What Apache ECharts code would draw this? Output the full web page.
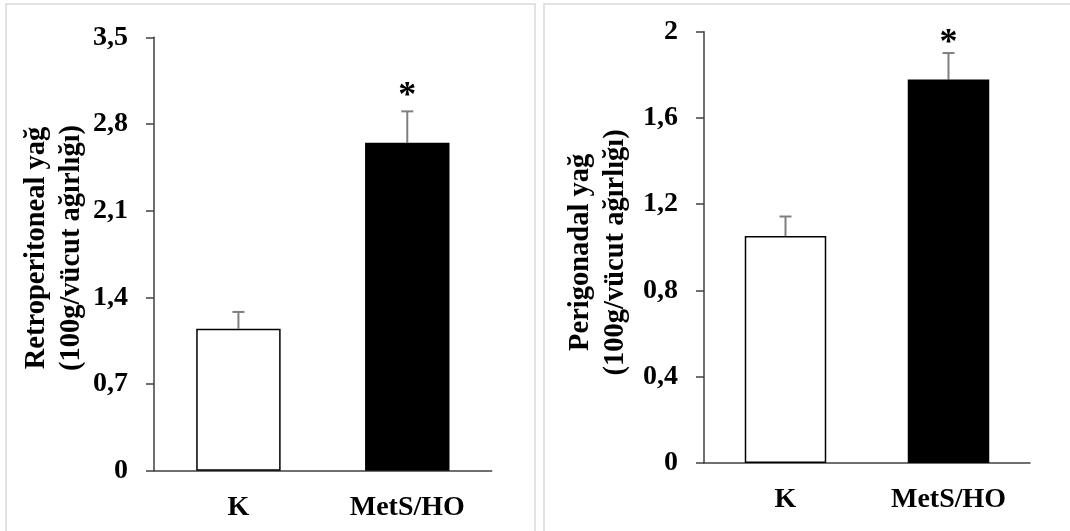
<!DOCTYPE html>
<html>
<head>
<meta charset="utf-8">
<script src="https://cdn.jsdelivr.net/npm/echarts@6/dist/echarts.min.js"></script>
<style>
  html, body { margin: 0; padding: 0; background: #fff; }
  #chart { width: 1070px; height: 531px; }
</style>
</head>
<body>
<div id="chart"></div>
<script>
// ---- data ----
const categories = ['K', 'MetS/HO'];

const retroMeans = [1.147, 2.649];
const retroErrors = [0.135, 0.253];
const retroStarPos = [null, 3.07];
const retroTicks = ['0', '0,7', '1,4', '2,1', '2,8', '3,5'];
const retroName = 'Retroperitoneal yağ\n(100g/vücut ağırlığı)';

const periMeans = [1.053, 1.778];
const periErrors = [0.09, 0.123];
const periStarPos = [null, 1.973];
const periTicks = ['0', '0,4', '0,8', '1,2', '1,6', '2'];
const periName = 'Perigonadal yağ\n(100g/vücut ağırlığı)';

// ---- styling ----
const FONT = '"Liberation Serif", "Times New Roman", serif';
const AXIS_COLOR = '#404040';
const ERR_COLOR = '#7f7f7f';
const FS = 28;
const STAR_FS = 36;

function tickFormatter(ticks, interval) {
  return function (v) {
    const i = Math.round(v / interval);
    return ticks[i] !== undefined ? ticks[i] : '';
  };
}

function makeYAxis(gridIndex, max, interval, ticks, name, nameGap, namePad) {
  return {
    type: 'value', gridIndex: gridIndex, min: 0, max: max, interval: interval,
    name: name, nameLocation: 'middle', nameRotate: 90, nameGap: nameGap,
    nameTextStyle: { fontFamily: FONT, fontWeight: 'bold', fontSize: 28.5, color: '#000', lineHeight: 35, align: 'center', padding: namePad },
    axisLine: { show: true, lineStyle: { color: AXIS_COLOR, width: 1.5 } },
    axisTick: { show: true, inside: false, length: 8, lineStyle: { color: AXIS_COLOR, width: 1.5 } },
    axisLabel: { margin: 26, fontFamily: FONT, fontWeight: 'bold', fontSize: FS, color: '#000', formatter: tickFormatter(ticks, interval) },
    splitLine: { show: false }
  };
}

function makeXAxis(gridIndex) {
  return {
    type: 'category', gridIndex: gridIndex, data: categories,
    axisLine: { show: true, onZero: false, lineStyle: { color: AXIS_COLOR, width: 1.5 } },
    axisTick: { show: false },
    axisLabel: { margin: 23, fontFamily: FONT, fontWeight: 'bold', fontSize: FS, color: '#000' }
  };
}

function makeBars(idx, means) {
  return {
    type: 'bar', xAxisIndex: idx, yAxisIndex: idx, barWidth: '50%',
    data: means.map(function (v, i) {
      return {
        value: v,
        itemStyle: i === 0
          ? { color: '#ffffff', borderColor: '#000000', borderWidth: 1.5 }
          : { color: '#000000', borderColor: '#000000', borderWidth: 0 }
      };
    }),
    silent: true, z: 2
  };
}

function makeErr(idx, means, errors) {
  return {
    type: 'custom', xAxisIndex: idx, yAxisIndex: idx, silent: true, z: 1,
    data: means.map(function (m, i) { return [i, m, m + errors[i]]; }),
    renderItem: function (params, api) {
      const base = api.coord([api.value(0), api.value(1)]);
      const top = api.coord([api.value(0), api.value(2)]);
      const hw = 6;
      return {
        type: 'group',
        children: [
          { type: 'line', shape: { x1: base[0], y1: base[1], x2: top[0], y2: top[1] }, style: { stroke: ERR_COLOR, lineWidth: 2 } },
          { type: 'line', shape: { x1: top[0] - hw, y1: top[1], x2: top[0] + hw, y2: top[1] }, style: { stroke: ERR_COLOR, lineWidth: 2 } }
        ]
      };
    }
  };
}

function makeStar(idx, pos) {
  return {
    type: 'custom', xAxisIndex: idx, yAxisIndex: idx, silent: true, z: 3,
    data: pos.map(function (p, i) { return p === null ? null : [i, p]; }).filter(function (d) { return d; }),
    renderItem: function (params, api) {
      const c = api.coord([api.value(0), api.value(1)]);
      return {
        type: 'text',
        style: { x: c[0], y: c[1] + STAR_FS * 0.17, text: '*', fill: '#000', font: 'bold ' + STAR_FS + 'px ' + FONT, align: 'center', verticalAlign: 'middle' }
      };
    }
  };
}

const chart = echarts.init(document.getElementById('chart'), null, { renderer: 'canvas' });
chart.setOption({
  animation: false,
  backgroundColor: '#ffffff',
  graphic: [
    { type: 'rect', shape: { x: 6, y: 4, width: 529, height: 560 }, style: { fill: 'none', stroke: '#d9d9d9', lineWidth: 1.5 }, silent: true },
    { type: 'rect', shape: { x: 544, y: 4, width: 560, height: 560 }, style: { fill: 'none', stroke: '#d9d9d9', lineWidth: 1.5 }, silent: true }
  ],
  grid: [
    { left: 154, top: 37.3, width: 337.7, height: 433.4 },
    { left: 704, top: 31.7, width: 326, height: 431.3 }
  ],
  xAxis: [makeXAxis(0), makeXAxis(1)],
  yAxis: [
    makeYAxis(0, 3.5, 0.7, retroTicks, retroName, 65, [0, 0, 0, 12]),
    makeYAxis(1, 2, 0.4, periTicks, periName, 71, [0, 10, 0, 0])
  ],
  series: [
    makeBars(0, retroMeans), makeErr(0, retroMeans, retroErrors), makeStar(0, retroStarPos),
    makeBars(1, periMeans), makeErr(1, periMeans, periErrors), makeStar(1, periStarPos)
  ]
});
</script>
</body>
</html>
